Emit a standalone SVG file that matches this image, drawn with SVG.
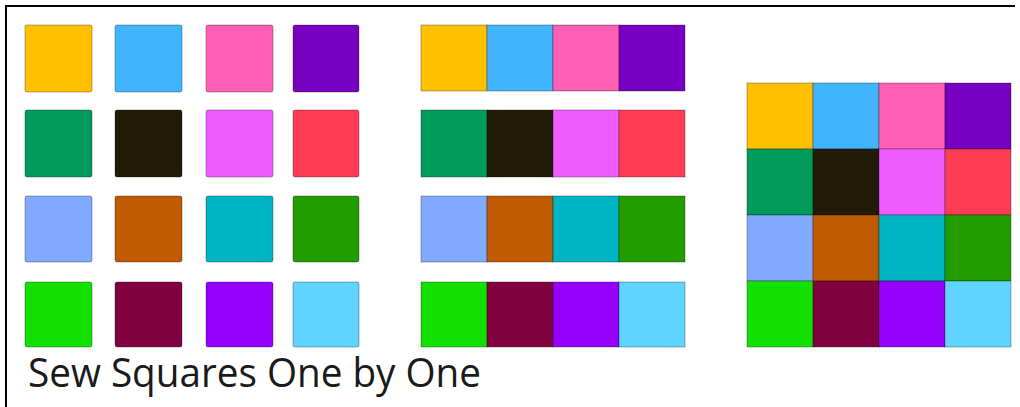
<svg xmlns="http://www.w3.org/2000/svg" width="1020" height="407" viewBox="0 0 1020 407">
<style>
.sq{stroke:#000;stroke-opacity:0.3;stroke-width:1}
.c1{fill:#FFC000}.c2{fill:#40B4FF}.c3{fill:#FF5FB4}.c4{fill:#7800C0}
.c5{fill:#009A5A}.c6{fill:#211B05}.c7{fill:#EE5CFF}.c8{fill:#FF3C55}
.c9{fill:#80AAFF}.c10{fill:#C05A00}.c11{fill:#00B4C3}.c12{fill:#239C00}
.c13{fill:#14E000}.c14{fill:#800040}.c15{fill:#9600FF}.c16{fill:#5FD4FF}
.lbl{font-family:"Open Sans","Noto Sans",sans-serif;font-size:40px;fill:#1a1a1a}
</style>
<rect x="0" y="0" width="1020" height="407" fill="#fefffe"/>
<g id="frame" fill="#000">
<rect x="5" y="5" width="1010" height="2"/>
<rect x="5" y="5" width="2" height="402"/>
</g>
<g id="loose-squares">
<rect class="sq c1" x="25" y="25" width="67" height="67" rx="2"/>
<rect class="sq c2" x="115" y="25" width="67" height="67" rx="2"/>
<rect class="sq c3" x="206" y="25" width="67" height="67" rx="2"/>
<rect class="sq c4" x="293" y="25" width="66" height="67" rx="2"/>
<rect class="sq c5" x="25" y="110" width="67" height="67" rx="2"/>
<rect class="sq c6" x="115" y="110" width="67" height="67" rx="2"/>
<rect class="sq c7" x="206" y="110" width="67" height="67" rx="2"/>
<rect class="sq c8" x="293" y="110" width="66" height="67" rx="2"/>
<rect class="sq c9" x="25" y="196" width="67" height="66" rx="2"/>
<rect class="sq c10" x="115" y="196" width="67" height="66" rx="2"/>
<rect class="sq c11" x="206" y="196" width="67" height="66" rx="2"/>
<rect class="sq c12" x="293" y="196" width="66" height="66" rx="2"/>
<rect class="sq c13" x="25" y="282" width="67" height="65" rx="2"/>
<rect class="sq c14" x="115" y="282" width="67" height="65" rx="2"/>
<rect class="sq c15" x="206" y="282" width="67" height="65" rx="2"/>
<rect class="sq c16" x="293" y="282" width="66" height="65" rx="2"/>
</g>
<g id="strip-1">
<rect class="sq c1" x="421" y="25" width="66" height="66"/>
<rect class="sq c2" x="487" y="25" width="66" height="66"/>
<rect class="sq c3" x="553" y="25" width="66" height="66"/>
<rect class="sq c4" x="619" y="25" width="66" height="66"/>
</g>
<g id="strip-2">
<rect class="sq c5" x="421" y="110" width="66" height="67"/>
<rect class="sq c6" x="487" y="110" width="66" height="67"/>
<rect class="sq c7" x="553" y="110" width="66" height="67"/>
<rect class="sq c8" x="619" y="110" width="66" height="67"/>
</g>
<g id="strip-3">
<rect class="sq c9" x="421" y="196" width="66" height="66"/>
<rect class="sq c10" x="487" y="196" width="66" height="66"/>
<rect class="sq c11" x="553" y="196" width="66" height="66"/>
<rect class="sq c12" x="619" y="196" width="66" height="66"/>
</g>
<g id="strip-4">
<rect class="sq c13" x="421" y="282" width="66" height="65"/>
<rect class="sq c14" x="487" y="282" width="66" height="65"/>
<rect class="sq c15" x="553" y="282" width="66" height="65"/>
<rect class="sq c16" x="619" y="282" width="66" height="65"/>
</g>
<g id="quilt">
<rect class="sq c1" x="747" y="83" width="66" height="66"/>
<rect class="sq c2" x="813" y="83" width="66" height="66"/>
<rect class="sq c3" x="879" y="83" width="66" height="66"/>
<rect class="sq c4" x="945" y="83" width="66" height="66"/>
<rect class="sq c5" x="747" y="149" width="66" height="66"/>
<rect class="sq c6" x="813" y="149" width="66" height="66"/>
<rect class="sq c7" x="879" y="149" width="66" height="66"/>
<rect class="sq c8" x="945" y="149" width="66" height="66"/>
<rect class="sq c9" x="747" y="215" width="66" height="66"/>
<rect class="sq c10" x="813" y="215" width="66" height="66"/>
<rect class="sq c11" x="879" y="215" width="66" height="66"/>
<rect class="sq c12" x="945" y="215" width="66" height="66"/>
<rect class="sq c13" x="747" y="281" width="66" height="66"/>
<rect class="sq c14" x="813" y="281" width="66" height="66"/>
<rect class="sq c15" x="879" y="281" width="66" height="66"/>
<rect class="sq c16" x="945" y="281" width="66" height="66"/>
</g>
<g id="caption">
<text class="lbl" x="28" y="387" textLength="453" lengthAdjust="spacingAndGlyphs">Sew Squares One by One</text>
</g>
</svg>
